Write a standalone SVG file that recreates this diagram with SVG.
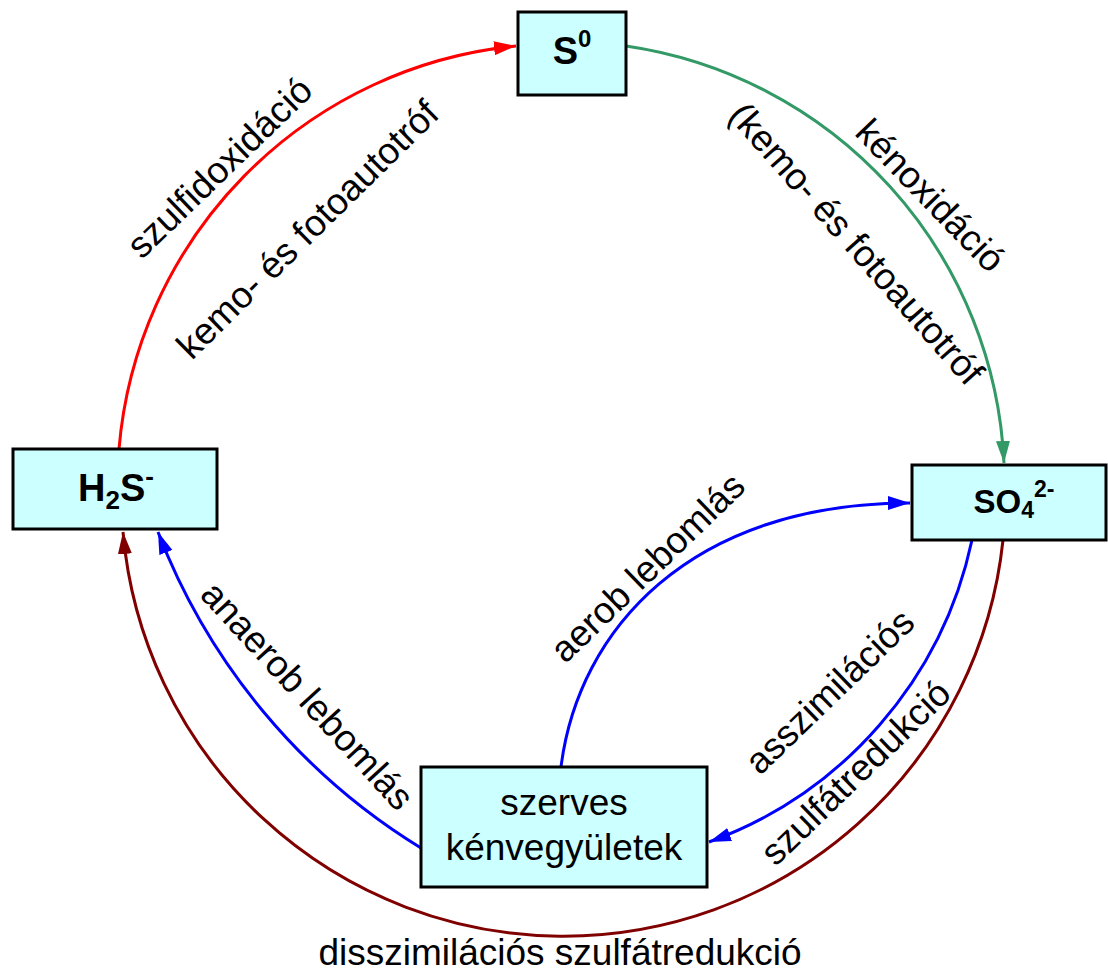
<svg xmlns="http://www.w3.org/2000/svg" width="1108" height="973" viewBox="0 0 1108 973">
<style>
.box{fill:#ccffff;stroke:#000;stroke-width:3}
.nl{font-family:"Liberation Sans",Arial,sans-serif;font-weight:bold;fill:#000}
.lbl{font-family:"Liberation Sans",Arial,sans-serif;font-size:37px;fill:#000;text-anchor:middle}
.c{fill:none;stroke-width:3}
</style>
<defs>
<marker id="ar" markerUnits="userSpaceOnUse" markerWidth="24" markerHeight="16" refX="22" refY="7" orient="auto"><path d="M0,0 L22,7 L0,14 z" fill="#ff0000"/></marker>
<marker id="ag" markerUnits="userSpaceOnUse" markerWidth="24" markerHeight="16" refX="22" refY="7" orient="auto"><path d="M0,0 L22,7 L0,14 z" fill="#339966"/></marker>
<marker id="ab" markerUnits="userSpaceOnUse" markerWidth="24" markerHeight="16" refX="22" refY="7" orient="auto"><path d="M0,0 L22,7 L0,14 z" fill="#0000ff"/></marker>
<marker id="am" markerUnits="userSpaceOnUse" markerWidth="24" markerHeight="16" refX="22" refY="7" orient="auto"><path d="M0,0 L22,7 L0,14 z" fill="#800000"/></marker>
</defs>
<g id="connectors">
<path class="c" stroke="#ff0000" marker-end="url(#ar)" d="M119,449 A442,442 0 0 1 516,46"/>
<path class="c" stroke="#339966" marker-end="url(#ag)" d="M626,46 A442,442 0 0 1 1004,463"/>
<path class="c" stroke="#800000" marker-end="url(#am)" d="M1003,540 A442,442 0 0 1 123,532"/>
<path class="c" stroke="#0000ff" marker-end="url(#ab)" d="M421,848 A640,640 0 0 1 158,532"/>
<path class="c" stroke="#0000ff" marker-end="url(#ab)" d="M561,767 C578,630 690,503 910,503"/>
<path class="c" stroke="#0000ff" marker-end="url(#ab)" d="M972,540 A413,413 0 0 1 709,842"/>
</g>
<g id="labels">
<text class="lbl" transform="translate(220,168) rotate(-44)" y="12">szulfidoxidáció</text>
<text class="lbl" transform="translate(308,230) rotate(-44.5)" y="12">kemo- és fotoautotróf</text>
<text class="lbl" transform="translate(930,196) rotate(46)" y="12">kénoxidáció</text>
<text class="lbl" transform="translate(856,244) rotate(48.5)" y="12">(kemo- és fotoautotróf</text>
<text class="lbl" transform="translate(307,696) rotate(47.5)" y="12">anaerob lebomlás</text>
<text class="lbl" transform="translate(648,568) rotate(-44)" y="12">aerob lebomlás</text>
<text class="lbl" transform="translate(830,692) rotate(-44)" y="12">asszimilációs</text>
<text class="lbl" transform="translate(856,773) rotate(-44)" y="12">szulfátredukció</text>
<text class="lbl" x="560" y="965">disszimilációs szulfátredukció</text>
</g>
<g id="node-s0">
<rect class="box" x="518" y="12" width="108" height="83"/>
<text class="nl" x="572" y="64" font-size="38" text-anchor="middle">S<tspan font-size="24" dy="-17">0</tspan></text>
</g>
<g id="node-h2s">
<rect class="box" x="13" y="449" width="204" height="80"/>
<text class="nl" x="116" y="501" font-size="38" text-anchor="middle">H<tspan font-size="26" dy="8">2</tspan><tspan dy="-8">S</tspan><tspan font-size="26" dy="-16">-</tspan></text>
</g>
<g id="node-so4">
<rect class="box" x="912" y="465" width="194" height="75"/>
<text class="nl" x="1014" y="513" font-size="33" text-anchor="middle">SO<tspan font-size="23" dy="5">4</tspan><tspan font-size="23" dy="-21">2-</tspan></text>
</g>
<g id="node-szerves">
<rect class="box" x="421" y="767" width="286" height="120"/>
<text class="lbl" x="564" y="815">szerves</text>
<text class="lbl" x="564" y="860">kénvegyületek</text>
</g>
</svg>
